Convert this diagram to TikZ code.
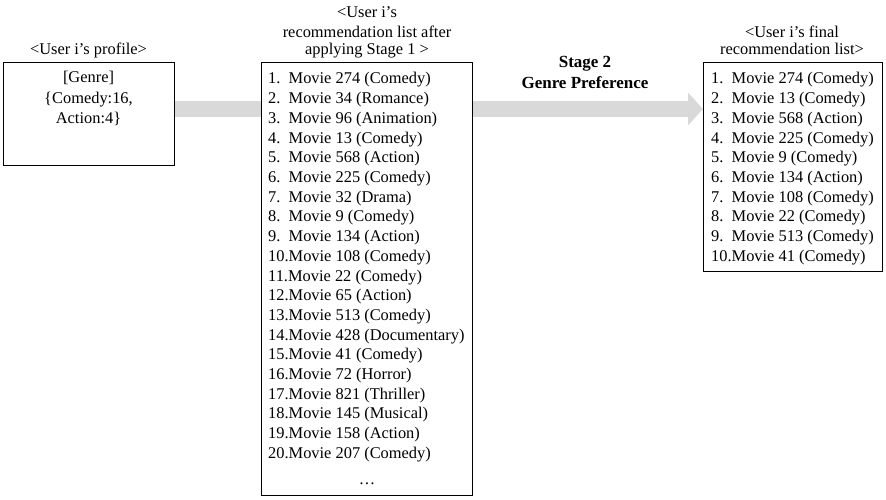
\documentclass[tikz,border=0pt]{standalone}
\usepackage{fontspec}
\setmainfont{Liberation Serif}
\usetikzlibrary{arrows.meta,backgrounds}
\definecolor{band}{HTML}{D9D9D9}
\begin{document}
\begin{tikzpicture}[x=1pt,y=-1pt,
  box/.style={draw=black,line width=1pt,fill=white,inner sep=0pt,outer sep=0pt},
  txt/.style={inner sep=0pt,font=\fontsize{16.4}{19.7}\selectfont},
  stagetxt/.style={inner sep=0pt,font=\fontsize{17}{20}\selectfont\bfseries},
  arrowband/.style={draw=band,line width=16pt,-{Triangle[width=32pt,length=15pt]}}]
\useasboundingbox (0,0) rectangle (886,500);
% boxes
\node[box,minimum width=171pt,minimum height=102pt] (b1) at (88.5,114) {};
\node[box,minimum width=211pt,minimum height=432pt] (b2) at (366.5,279) {};
\node[box,minimum width=179pt,minimum height=208pt] (b3) at (792.5,167) {};
% arrow
\begin{scope}[on background layer]
\coordinate (ay) at (0,109);
\draw[arrowband] (b1.east |- ay) -- (b3.west |- ay);
\end{scope}
% titles
\node[txt,anchor=base] (t1) at (88.5,55) {<User i’s profile>};
\node[txt,anchor=base] (t2a) at (367,18) {<User i’s};
\node[txt,anchor=base] (t2b) at (367,37.5) {recommendation list after};
\node[txt,anchor=base] (t2c) at (367,55) {applying Stage 1 >};
\node[txt,anchor=base] (t3a) at (792,37.5) {<User i’s final};
\node[txt,anchor=base] (t3b) at (792,55) {recommendation list>};
\node[stagetxt,anchor=base] (s1) at (585,68) {Stage 2};
\node[stagetxt,anchor=base] (s2) at (585,89) {Genre Preference};
% profile
\node[txt,anchor=base] (p1) at (88.5,83) {[Genre]};
\node[txt,anchor=base] (p2) at (88.5,103.5) {\{Comedy:16,};
\node[txt,anchor=base] (p3) at (88.5,124) {Action:4\}};
% list after stage 1
\foreach \t [count=\n] in {
 1.\ \ Movie 274 (Comedy),
 2.\ \ Movie 34 (Romance),
 3.\ \ Movie 96 (Animation),
 4.\ \ Movie 13 (Comedy),
 5.\ \ Movie 568 (Action),
 6.\ \ Movie 225 (Comedy),
 7.\ \ Movie 32 (Drama),
 8.\ \ Movie 9 (Comedy),
 9.\ \ Movie 134 (Action),
 10.Movie 108 (Comedy),
 11.Movie 22 (Comedy),
 12.Movie 65 (Action),
 13.Movie 513 (Comedy),
 14.Movie 428 (Documentary),
 15.Movie 41 (Comedy),
 16.Movie 72 (Horror),
 17.Movie 821 (Thriller),
 18.Movie 145 (Musical),
 19.Movie 158 (Action),
 20.Movie 207 (Comedy)}
 \node[txt,anchor=base west] (r\n) at (268,{84+19.7*(\n-1)}) {\t};
\node[txt,anchor=base] (rdots) at (367,484) {\ldots};
% final list
\foreach \t [count=\n] in {
 1.\ \ Movie 274 (Comedy),
 2.\ \ Movie 13 (Comedy),
 3.\ \ Movie 568 (Action),
 4.\ \ Movie 225 (Comedy),
 5.\ \ Movie 9 (Comedy),
 6.\ \ Movie 134 (Action),
 7.\ \ Movie 108 (Comedy),
 8.\ \ Movie 22 (Comedy),
 9.\ \ Movie 513 (Comedy),
 10.Movie 41 (Comedy)}
 \node[txt,anchor=base west] (f\n) at (711,{84+19.7*(\n-1)}) {\t};
\end{tikzpicture}
\end{document}
